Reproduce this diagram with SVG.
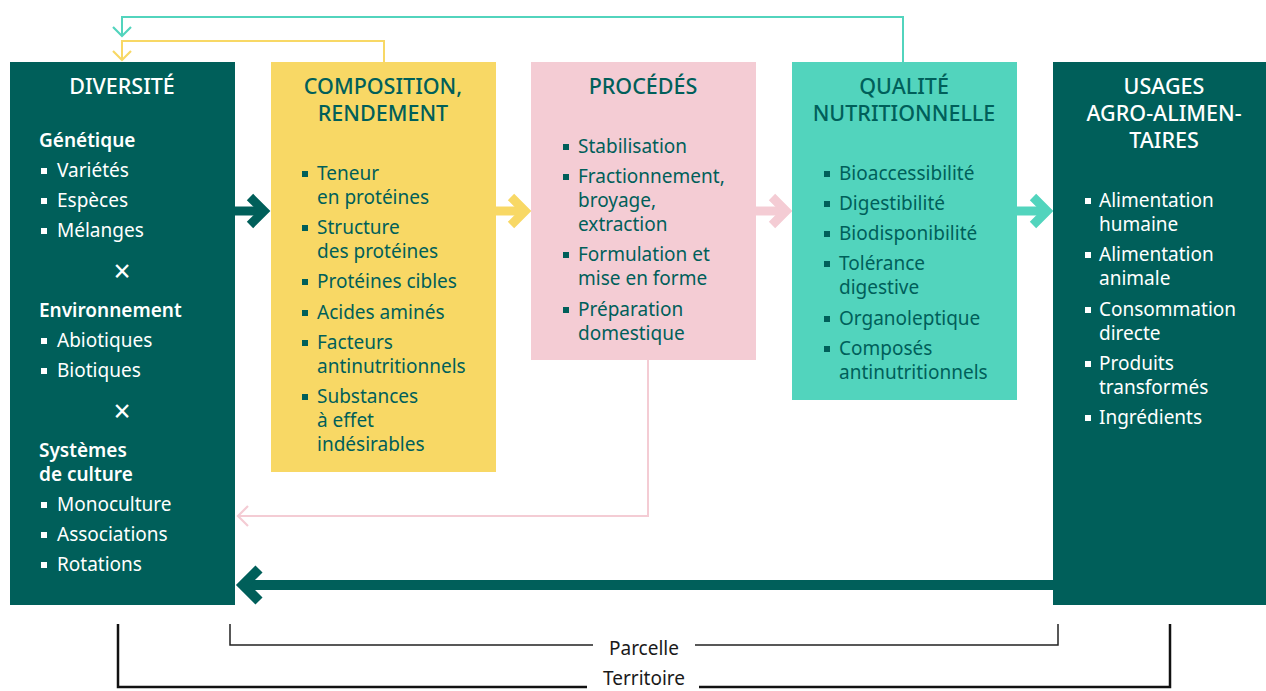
<svg xmlns="http://www.w3.org/2000/svg" width="1266" height="691" viewBox="0 0 1266 691">
<style>
text{font-family:"Noto Sans","DejaVu Sans",sans-serif;font-size:19px}
.t{font-size:21.5px;font-weight:500;text-anchor:middle}
.w{fill:#ffffff}
.d{fill:#005F5A}
.b{font-weight:600}
.x{font-size:30px;text-anchor:middle}
.lbl{fill:#1a1a1a;text-anchor:middle}
</style>
<defs>
<rect id="bw" width="6" height="6" fill="#ffffff"/>
<rect id="bd" width="6" height="6" fill="#005F5A"/>
</defs>

<g id="connectors" fill="none">
  <polyline points="903,62 903,17 122,17 122,35" stroke="#52D4BD" stroke-width="2"/>
  <polyline points="113,27 122,36 131,27" stroke="#52D4BD" stroke-width="2.2"/>
  <polyline points="384,62 384,41 122,41 122,59" stroke="#F8D865" stroke-width="2"/>
  <polyline points="113,51 122,60 131,51" stroke="#F8D865" stroke-width="2.2"/>
  <polyline points="648,360 648,516 238,516" stroke="#F4CCD4" stroke-width="2"/>
  <polyline points="248,506 238,516 248,526" stroke="#F4CCD4" stroke-width="2.2"/>
  <g stroke="#005F5A" stroke-width="9">
    <line x1="235" y1="211" x2="264" y2="211"/>
    <polyline points="250,197 264,211 250,225"/>
  </g>
  <g stroke="#F8D865" stroke-width="9">
    <line x1="496" y1="211" x2="525" y2="211"/>
    <polyline points="511,197 525,211 511,225"/>
  </g>
  <g stroke="#F4CCD4" stroke-width="9">
    <line x1="756" y1="211" x2="786" y2="211"/>
    <polyline points="772,197 786,211 772,225"/>
  </g>
  <g stroke="#52D4BD" stroke-width="9">
    <line x1="1017" y1="211" x2="1047" y2="211"/>
    <polyline points="1033,197 1047,211 1033,225"/>
  </g>
  <g stroke="#005F5A" stroke-width="10">
    <line x1="1053" y1="585" x2="243" y2="585"/>
    <polyline points="259,569 243,585 259,601"/>
  </g>
</g>

<g id="node-diversite">
  <rect x="10" y="62" width="225" height="543" fill="#005F5A"/>
  <text class="t w" x="122" y="94">DIVERSITÉ</text>
  <text class="w b" x="39" y="147">Génétique</text>
  <use href="#bw" x="41" y="168"/><text class="w" x="57" y="177">Variétés</text>
  <use href="#bw" x="41" y="198"/><text class="w" x="57" y="207">Espèces</text>
  <use href="#bw" x="41" y="228"/><text class="w" x="57" y="237">Mélanges</text>
  <text class="w x" x="122" y="282">×</text>
  <text class="w b" x="39" y="317">Environnement</text>
  <use href="#bw" x="41" y="338"/><text class="w" x="57" y="347">Abiotiques</text>
  <use href="#bw" x="41" y="368"/><text class="w" x="57" y="377">Biotiques</text>
  <text class="w x" x="122" y="422">×</text>
  <text class="w b" x="39" y="457">Systèmes</text>
  <text class="w b" x="39" y="481">de culture</text>
  <use href="#bw" x="41" y="502"/><text class="w" x="57" y="511">Monoculture</text>
  <use href="#bw" x="41" y="532"/><text class="w" x="57" y="541">Associations</text>
  <use href="#bw" x="41" y="562"/><text class="w" x="57" y="571">Rotations</text>
</g>

<g id="node-composition">
  <rect x="271" y="62" width="225" height="410" fill="#F8D865"/>
  <text class="t d" x="383" y="94">COMPOSITION,</text>
  <text class="t d" x="383" y="121">RENDEMENT</text>
  <use href="#bd" x="302" y="171"/><text class="d" x="317" y="180">Teneur</text>
  <text class="d" x="317" y="204">en protéines</text>
  <use href="#bd" x="302" y="225"/><text class="d" x="317" y="234">Structure</text>
  <text class="d" x="317" y="258">des protéines</text>
  <use href="#bd" x="302" y="279"/><text class="d" x="317" y="288">Protéines cibles</text>
  <use href="#bd" x="302" y="310"/><text class="d" x="317" y="319">Acides aminés</text>
  <use href="#bd" x="302" y="340"/><text class="d" x="317" y="349">Facteurs</text>
  <text class="d" x="317" y="373">antinutritionnels</text>
  <use href="#bd" x="302" y="394"/><text class="d" x="317" y="403">Substances</text>
  <text class="d" x="317" y="427">à effet</text>
  <text class="d" x="317" y="451">indésirables</text>
</g>

<g id="node-procedes">
  <rect x="531" y="62" width="225" height="298" fill="#F4CCD4"/>
  <text class="t d" x="643" y="94">PROCÉDÉS</text>
  <use href="#bd" x="563" y="144"/><text class="d" x="578" y="153">Stabilisation</text>
  <use href="#bd" x="563" y="174"/><text class="d" x="578" y="183">Fractionnement,</text>
  <text class="d" x="578" y="207">broyage,</text>
  <text class="d" x="578" y="231">extraction</text>
  <use href="#bd" x="563" y="252"/><text class="d" x="578" y="261">Formulation et</text>
  <text class="d" x="578" y="285">mise en forme</text>
  <use href="#bd" x="563" y="307"/><text class="d" x="578" y="316">Préparation</text>
  <text class="d" x="578" y="340">domestique</text>
</g>

<g id="node-qualite">
  <rect x="792" y="62" width="225" height="338" fill="#52D4BD"/>
  <text class="t d" x="904" y="94">QUALITÉ</text>
  <text class="t d" x="904" y="121">NUTRITIONNELLE</text>
  <use href="#bd" x="824" y="171"/><text class="d" x="839" y="180">Bioaccessibilité</text>
  <use href="#bd" x="824" y="201"/><text class="d" x="839" y="210">Digestibilité</text>
  <use href="#bd" x="824" y="231"/><text class="d" x="839" y="240">Biodisponibilité</text>
  <use href="#bd" x="824" y="261"/><text class="d" x="839" y="270">Tolérance</text>
  <text class="d" x="839" y="294">digestive</text>
  <use href="#bd" x="824" y="316"/><text class="d" x="839" y="325">Organoleptique</text>
  <use href="#bd" x="824" y="346"/><text class="d" x="839" y="355">Composés</text>
  <text class="d" x="839" y="379">antinutritionnels</text>
</g>

<g id="node-usages">
  <rect x="1053" y="62" width="213" height="543" fill="#005F5A"/>
  <text class="t w" x="1164" y="94">USAGES</text>
  <text class="t w" x="1164" y="121">AGRO-ALIMEN-</text>
  <text class="t w" x="1164" y="148">TAIRES</text>
  <use href="#bw" x="1085" y="198"/><text class="w" x="1099" y="207">Alimentation</text>
  <text class="w" x="1099" y="231">humaine</text>
  <use href="#bw" x="1085" y="252"/><text class="w" x="1099" y="261">Alimentation</text>
  <text class="w" x="1099" y="285">animale</text>
  <use href="#bw" x="1085" y="307"/><text class="w" x="1099" y="316">Consommation</text>
  <text class="w" x="1099" y="340">directe</text>
  <use href="#bw" x="1085" y="361"/><text class="w" x="1099" y="370">Produits</text>
  <text class="w" x="1099" y="394">transformés</text>
  <use href="#bw" x="1085" y="415"/><text class="w" x="1099" y="424">Ingrédients</text>
</g>

<g id="scale-parcelle">
  <polyline points="230,624 230,645 593,645" fill="none" stroke="#222" stroke-width="1.5"/>
  <polyline points="695,645 1058,645 1058,624" fill="none" stroke="#222" stroke-width="1.5"/>
  <text class="lbl" x="644" y="655">Parcelle</text>
</g>
<g id="scale-territoire">
  <polyline points="118,624 118,687 587,687" fill="none" stroke="#111" stroke-width="2.5"/>
  <polyline points="699,687 1170,687 1170,624" fill="none" stroke="#111" stroke-width="2.5"/>
  <text class="lbl" x="644" y="685">Territoire</text>
</g>
</svg>
